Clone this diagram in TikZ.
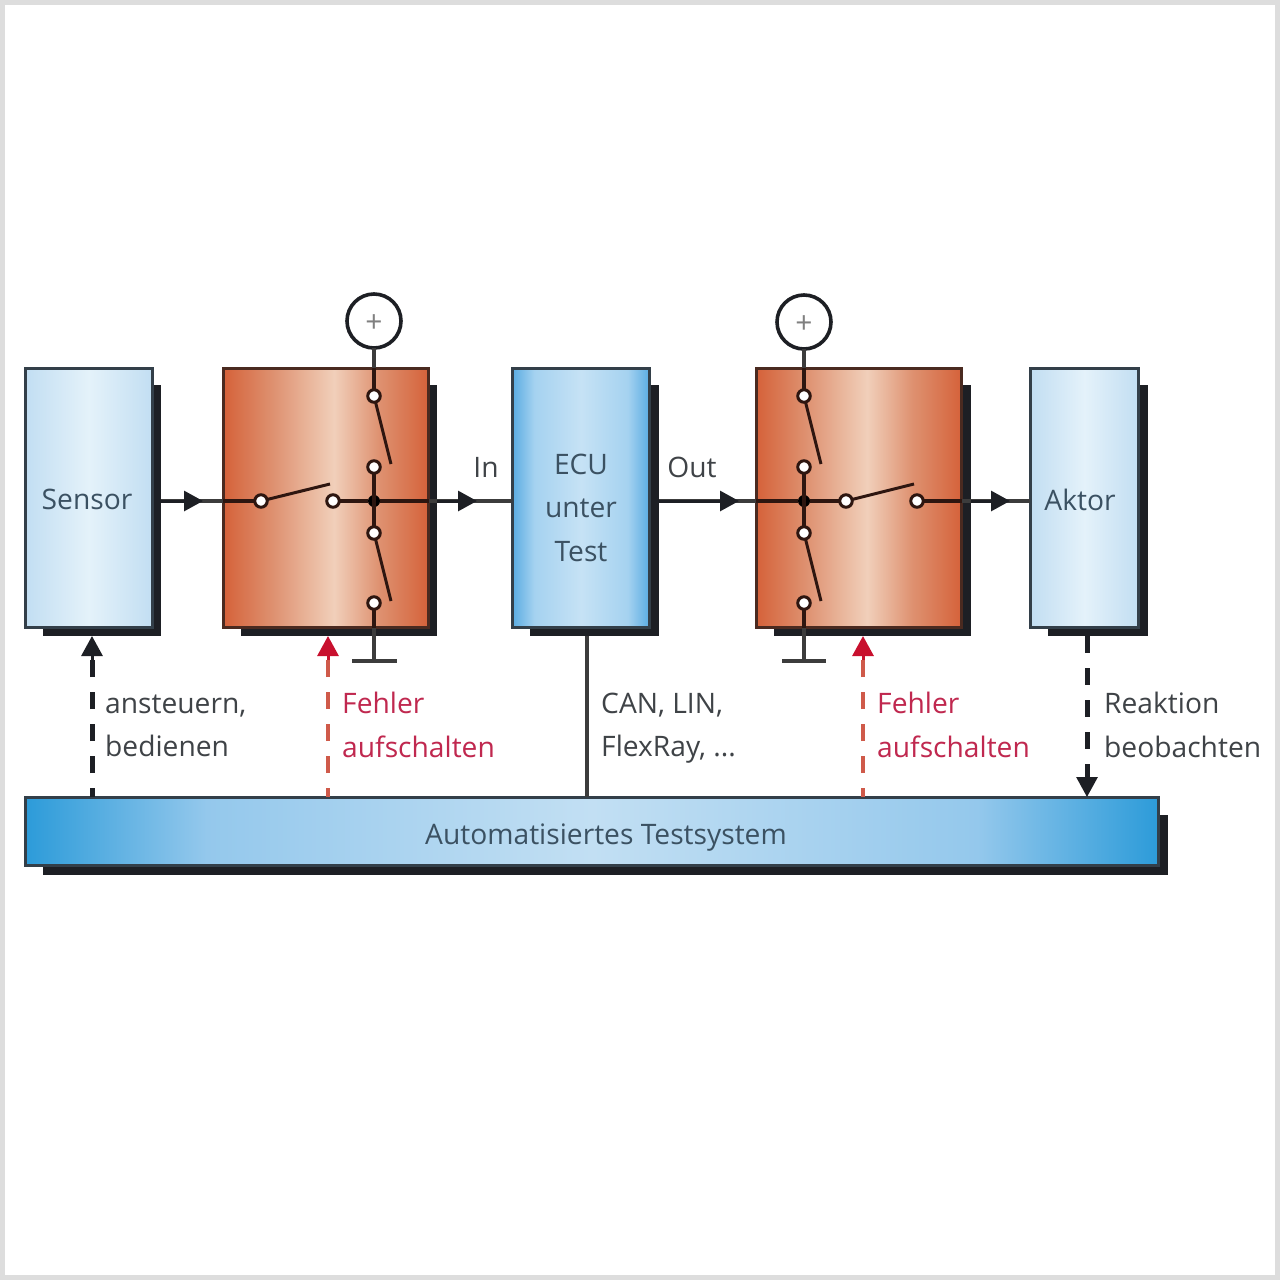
\documentclass[tikz,border=0pt]{standalone}
\usepackage{fontspec}
\setmainfont{Open Sans}
\usetikzlibrary{arrows.meta}
\definecolor{shadowc}{HTML}{1D1F24}
\definecolor{edgeb}{HTML}{333F49}
\definecolor{edgec}{HTML}{4A2A20}
\definecolor{wirec}{HTML}{3C3C3C}
\definecolor{wirein}{HTML}{2E1610}
\definecolor{textc}{HTML}{3F4347}
\definecolor{textb}{HTML}{3B5162}
\definecolor{redt}{HTML}{C0284F}
\definecolor{redtip}{HTML}{C8102E}
\definecolor{redd}{HTML}{CF5A4A}
\definecolor{framec}{HTML}{DDDDDD}
\definecolor{cua}{HTML}{D5623A}
\definecolor{cub}{HTML}{DE9170}
\definecolor{cuc}{HTML}{F1CFBA}
\definecolor{paa}{HTML}{C2DEF2}
\definecolor{pab}{HTML}{E4F2FA}
\definecolor{eca}{HTML}{5AACE2}
\definecolor{ecb}{HTML}{A5D2F0}
\definecolor{ecc}{HTML}{C6E2F5}
\definecolor{tea}{HTML}{2C9BD9}
\definecolor{teb}{HTML}{94C8EC}
\definecolor{tec}{HTML}{C2DFF3}
\pgfdeclarehorizontalshading{coppershade}{100bp}{color(0bp)=(cua);color(25bp)=(cua);color(37bp)=(cub);color(52bp)=(cuc);color(63bp)=(cub);color(75bp)=(cua);color(100bp)=(cua)}
\pgfdeclarehorizontalshading{paleshade}{100bp}{color(0bp)=(paa);color(25bp)=(paa);color(50bp)=(pab);color(75bp)=(paa);color(100bp)=(paa)}
\pgfdeclarehorizontalshading{ecushade}{100bp}{color(0bp)=(eca);color(25bp)=(eca);color(33bp)=(ecb);color(50bp)=(ecc);color(67bp)=(ecb);color(75bp)=(eca);color(100bp)=(eca)}
\pgfdeclarehorizontalshading{testshade}{100bp}{color(0bp)=(tea);color(25bp)=(tea);color(33bp)=(teb);color(50bp)=(tec);color(67bp)=(teb);color(75bp)=(tea);color(100bp)=(tea)}
\tikzset{
  x=1pt,y=-1pt,
  shadowbox/.style={fill=shadowc,draw=none,inner sep=0pt,outer sep=0pt},
  bluebox/.style={draw=edgeb,line width=3pt,inner sep=0pt,outer sep=0pt},
  copperbox/.style={draw=edgec,line width=3pt,inner sep=0pt,outer sep=0pt,shading=coppershade},
  wire/.style={draw=wirec,line width=3.2pt},
  wireinner/.style={draw=wirein,line width=3.2pt},
  arm/.style={draw=wirein,line width=3pt},
  flowtip/.style={draw=shadowc,line width=3pt,-{Triangle[length=19pt,width=20pt]}},
  ctltip/.style={draw=shadowc,line width=3pt,-{Triangle[length=20pt,width=21pt]}},
  redctltip/.style={draw=redtip,line width=3pt,-{Triangle[length=20pt,width=21pt,color=redtip]}},
  dashk/.style={draw=shadowc,line width=5pt,dash pattern=on 17pt off 15pt},
  dashr/.style={draw=redd,line width=4.5pt,dash pattern=on 17pt off 15pt},
  terminal/.style={circle,draw=wirein,fill=white,line width=3pt,minimum size=12.5pt,inner sep=0pt,outer sep=0pt},
  junction/.style={circle,fill=black,minimum size=12pt,inner sep=0pt,outer sep=0pt},
  supply/.style={circle,draw=shadowc,fill=white,line width=3.6pt,minimum size=54pt,inner sep=0pt,outer sep=0pt},
  plusmark/.style={font=\fontsize{30}{30}\selectfont,text=gray,inner sep=0pt},
  lbl/.style={font=\fontsize{28.2}{43.5}\selectfont,text=textc,inner sep=0pt,align=left},
  lblin/.style={font=\fontsize{28.2}{43.5}\selectfont,text=textb,inner sep=0pt,align=center},
  lblred/.style={font=\fontsize{28.2}{43.5}\selectfont,text=redt,inner sep=0pt,align=left},
}
\begin{document}
\begin{tikzpicture}
\path[use as bounding box] (0,0) rectangle (1280,1280);
\draw[draw=framec,fill=white,line width=5pt] (2.5,2.5) rectangle (1277.5,1277.5);

% shadows
\node[shadowbox,minimum width=118pt,minimum height=251pt] (sensorS) at (102,510.5) {};
\node[shadowbox,minimum width=196pt,minimum height=251pt] (swaS) at (339,510.5) {};
\node[shadowbox,minimum width=129pt,minimum height=251pt] (ecuS) at (594.5,510.5) {};
\node[shadowbox,minimum width=197pt,minimum height=251pt] (swbS) at (872.5,510.5) {};
\node[shadowbox,minimum width=100pt,minimum height=251pt] (aktorS) at (1098,510.5) {};
\node[shadowbox,minimum width=1125pt,minimum height=60pt] (testS) at (605.5,845) {};

% blocks
\node[bluebox,shading=paleshade,minimum width=127pt,minimum height=259pt] (sensor) at (89,498) {};
\node[copperbox,minimum width=205pt,minimum height=259pt] (swa) at (326,498) {};
\node[bluebox,shading=ecushade,minimum width=137pt,minimum height=259pt] (ecu) at (581,498) {};
\node[copperbox,minimum width=205pt,minimum height=259pt] (swb) at (859,498) {};
\node[bluebox,shading=paleshade,minimum width=108pt,minimum height=259pt] (aktor) at (1084.5,498) {};
\node[bluebox,shading=testshade,minimum width=1133pt,minimum height=68pt] (test) at (592,831.5) {};

% terminals
\node[supply] (pa) at (374,321) {};
\node[plusmark] (paplus) at (374,324) {+};
\node[supply] (pb) at (804,322) {};
\node[plusmark] (pbplus) at (804,325) {+};

\node[terminal] (a1) at (374,396) {};
\node[terminal] (a2) at (374,467) {};
\node[terminal] (a3) at (374,533) {};
\node[terminal] (a4) at (374,603) {};
\node[junction] (aj) at (374,501) {};
\node[terminal] (ai) at (261,501) {};
\node[terminal] (ao) at (333,501) {};

\node[terminal] (b1) at (804,396) {};
\node[terminal] (b2) at (804,467) {};
\node[terminal] (b3) at (804,533) {};
\node[terminal] (b4) at (804,603) {};
\node[junction] (bj) at (804,501) {};
\node[terminal] (bi) at (846,501) {};
\node[terminal] (bo) at (917,501) {};

% free ends of connectors
\coordinate (c0) at (161,501);
\coordinate (tip1) at (203,501);
\coordinate (c1) at (223,501);
\coordinate (c2) at (429,501);
\coordinate (c3) at (437,501);
\coordinate (tip2) at (477,501);
\coordinate (c4) at (512,501);
\coordinate (c5) at (659,501);
\coordinate (tip3) at (739,501);
\coordinate (c6) at (756,501);
\coordinate (c7) at (962,501);
\coordinate (c8) at (971,501);
\coordinate (tip4) at (1010,501);
\coordinate (c9) at (1030,501);
\coordinate (gaT) at (374,628);
\coordinate (ga) at (374,661);
\coordinate (gaL) at (352,661);
\coordinate (gaR) at (397,661);
\coordinate (gbT) at (804,628);
\coordinate (gb) at (804,661);
\coordinate (gbL) at (782,661);
\coordinate (gbR) at (826,661);
\coordinate (paT) at (374,368);
\coordinate (pbT) at (804,368);
\coordinate (armai) at (330,484);
\coordinate (armbi) at (914,484);
\coordinate (arma1) at (391,464);
\coordinate (arma3) at (391,601);
\coordinate (armb1) at (821,464);
\coordinate (armb3) at (821,601);

% horizontal signal path
\draw[wire] (c0) -- (c1);
\draw[flowtip] (c0) -- (tip1);
\draw[wireinner] (c1) -- (ai);
\draw[wireinner] (ao) -- (aj);
\draw[wireinner] (aj) -- (c2);
\draw[wire] (c2) -- (c4);
\draw[flowtip] (c3) -- (tip2);
\draw[wire] (c5) -- (c6);
\draw[flowtip] (c5) -- (tip3);
\draw[wireinner] (c6) -- (bj);
\draw[wireinner] (bj) -- (bi);
\draw[wireinner] (bo) -- (c7);
\draw[wire] (c7) -- (c9);
\draw[flowtip] (c8) -- (tip4);

% verticals
\draw[wire] (pa) -- (paT);
\draw[wireinner] (paT) -- (a1);
\draw[wireinner] (a2) -- (a3);
\draw[wireinner] (a4) -- (gaT);
\draw[wire] (gaT) -- (ga);
\draw[wire] (gaL) -- (gaR);
\draw[wire] (pb) -- (pbT);
\draw[wireinner] (pbT) -- (b1);
\draw[wireinner] (b2) -- (b3);
\draw[wireinner] (b4) -- (gbT);
\draw[wire] (gbT) -- (gb);
\draw[wire] (gbL) -- (gbR);

% switch arms
\draw[arm] (ai) -- (armai);
\draw[arm] (bi) -- (armbi);
\draw[arm] (a1) -- (arma1);
\draw[arm] (a3) -- (arma3);
\draw[arm] (b1) -- (armb1);
\draw[arm] (b3) -- (armb3);

% control connectors
\coordinate (k0) at (92,797);
\coordinate (k1) at (92,660);
\coordinate (k2) at (92,636);
\coordinate (r0) at (328,797);
\coordinate (r1) at (328,660);
\coordinate (r2) at (328,636);
\coordinate (s0) at (863,797);
\coordinate (s1) at (863,660);
\coordinate (s2) at (863,636);
\coordinate (o0) at (1087,636);
\coordinate (o1) at (1087,778);
\coordinate (o2) at (1087,797);
\coordinate (busT) at (587,636);
\coordinate (busB) at (587,797);
\draw[dashk,dash phase=8pt] (k0) -- (k1);
\draw[ctltip] (k1) -- (k2);
\draw[dashr,dash phase=8pt] (r0) -- (r1);
\draw[redctltip] (r1) -- (r2);
\draw[dashr,dash phase=8pt] (s0) -- (s1);
\draw[redctltip] (s1) -- (s2);
\draw[dashk] (o0) -- (o1);
\draw[ctltip] (o1) -- (o2);
\draw[wire] (busT) -- (busB);

% texts
\node[lblin] (tsensor) at (87,499.5) {Sensor};
\node[lblin] (tecu) at (581,507.5) {ECU\\unter\\Test};
\node[lblin] (taktor) at (1080,499.5) {Aktor};
\node[lblin] (ttest) at (606,838) {Automatisiertes Testsystem};
\node[lbl] (tin) at (486,467) {In};
\node[lbl] (tout) at (692,467) {Out};
\node[lbl,anchor=west] (tctl) at (105,726) {ansteuern,\\bedienen};
\node[lblred,anchor=west] (tfa) at (342,725) {Fehler\\aufschalten};
\node[lbl,anchor=west] (tbus) at (601,728) {CAN, LIN,\\FlexRay, ...};
\node[lblred,anchor=west] (tfb) at (877,725) {Fehler\\aufschalten};
\node[lbl,anchor=west] (trk) at (1104,725) {Reaktion\\beobachten};
\end{tikzpicture}
\end{document}
